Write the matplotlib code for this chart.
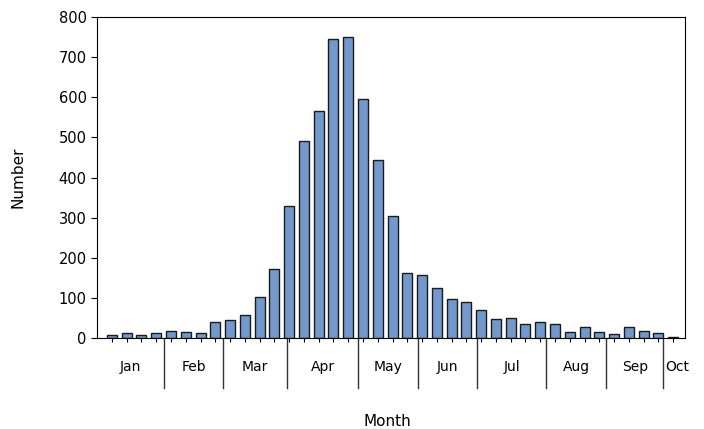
import numpy as np
import matplotlib.pyplot as plt

counts = [8, 12, 8, 12,
          18, 15, 13, 40,
          45, 58, 102, 173,
          328, 492, 565, 745, 750,
          595, 445, 305, 163,
          158, 125, 97, 90,
          70, 48, 50, 35, 40,
          35, 16, 28, 16,
          10, 28, 18, 12,
          2]
months = ['Jan', 'Feb', 'Mar', 'Apr', 'May', 'Jun', 'Jul', 'Aug', 'Sep', 'Oct']
# month boundaries in bar-index units (weeks do not line up with months)
bounds = [-1.0, 3.52, 7.52, 11.86, 16.67, 20.73, 24.73, 29.4, 33.47, 37.33, 38.8]

fig = plt.figure(figsize=(7.04, 4.29), dpi=100)
ax = fig.add_axes([0.138, 0.212, 0.835, 0.748])

x = np.arange(len(counts))
ax.bar(x, counts, width=0.68, color='#7399cc', edgecolor='#1a1a1a', linewidth=1)
ax.set_xlim(-1.0, 38.8)
ax.set_ylim(0, 800)
ax.set_yticks(range(0, 801, 100))
ax.set_xticks(x)
ax.set_xticklabels([])
ax.tick_params(axis='x', length=3, direction='out')
ax.tick_params(axis='y', length=4, labelsize=10.5)

for b in bounds[1:-1]:
    ax.plot([b, b], [0, -0.155], transform=ax.get_xaxis_transform(), color='#333333',
            lw=1, clip_on=False)
for i, m in enumerate(months):
    c = (bounds[i] + bounds[i + 1]) / 2
    if m == 'Oct':
        c = bounds[i] + 0.95
    ax.text(c, -0.09, m, transform=ax.get_xaxis_transform(), ha='center', va='center', fontsize=10)

ax.set_ylabel('Number', fontsize=11, labelpad=24)
fig.text(0.55, 0.0, 'Month', ha='center', va='bottom', fontsize=11)

fig.savefig('out.png', dpi=100)
